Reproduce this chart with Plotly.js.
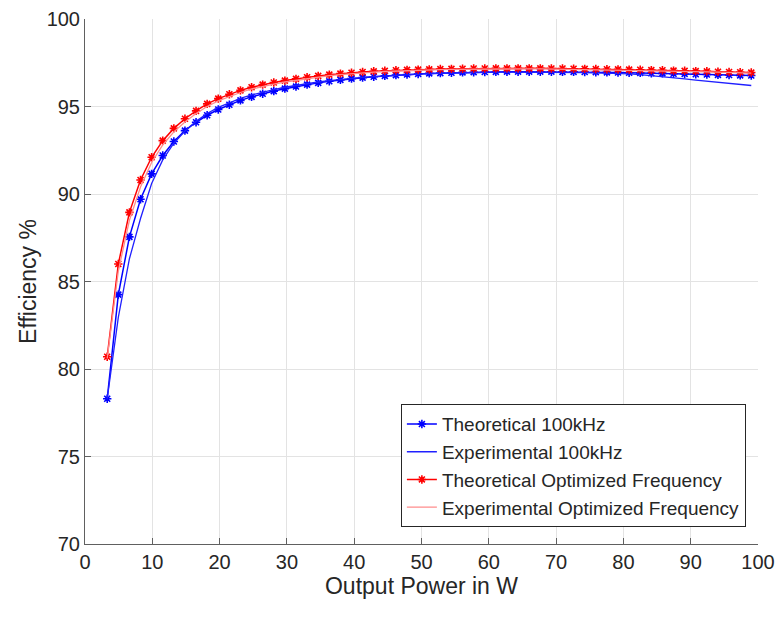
<!DOCTYPE html>
<html>
<head>
<meta charset="utf-8">
<script src="https://cdn.plot.ly/plotly-3.0.1.min.js"></script>
<style>html,body{margin:0;padding:0;background:#fff;}#chart{width:780px;height:620px;}</style>
</head>
<body>
<div id="chart"></div>
<script>
const outputPower = [3.3, 4.95, 6.6, 8.25, 9.9, 11.55, 13.2, 14.85, 16.5, 18.15, 19.8, 21.45, 23.1, 24.75, 26.4, 28.05, 29.7, 31.35, 33, 34.65, 36.3, 37.95, 39.6, 41.25, 42.9, 44.55, 46.2, 47.85, 49.5, 51.15, 52.8, 54.45, 56.1, 57.75, 59.4, 61.05, 62.7, 64.35, 66, 67.65, 69.3, 70.95, 72.6, 74.25, 75.9, 77.55, 79.2, 80.85, 82.5, 84.15, 85.8, 87.45, 89.1, 90.75, 92.4, 94.05, 95.7, 97.35, 99];

const theo100k = [78.3, 84.25, 87.55, 89.7, 91.15, 92.2, 93.0, 93.62, 94.1, 94.5, 94.83, 95.1, 95.35, 95.55, 95.73, 95.88, 96.02, 96.14, 96.25, 96.35, 96.44, 96.52, 96.59, 96.65, 96.7, 96.75, 96.79, 96.83, 96.86, 96.89, 96.91, 96.93, 96.95, 96.96, 96.97, 96.98, 96.99, 96.99, 96.99, 96.99, 96.99, 96.98, 96.98, 96.97, 96.96, 96.95, 96.94, 96.93, 96.92, 96.9, 96.89, 96.87, 96.86, 96.84, 96.83, 96.81, 96.8, 96.78, 96.77];

const exp100k = [78.3, 82.95, 86.3, 88.6, 90.6, 91.95, 92.9, 93.6, 94.15, 94.6, 94.95, 95.22, 95.46, 95.66, 95.83, 95.97, 96.1, 96.21, 96.31, 96.4, 96.48, 96.55, 96.61, 96.66, 96.71, 96.75, 96.79, 96.82, 96.85, 96.88, 96.9, 96.92, 96.94, 96.95, 96.96, 96.97, 96.97, 96.97, 96.97, 96.97, 96.96, 96.95, 96.94, 96.93, 96.92, 96.91, 96.89, 96.86, 96.82, 96.77, 96.72, 96.65, 96.58, 96.51, 96.45, 96.38, 96.32, 96.26, 96.2];

const theoOpt = [80.7, 86.0, 88.95, 90.8, 92.1, 93.05, 93.75, 94.3, 94.75, 95.15, 95.45, 95.7, 95.92, 96.1, 96.25, 96.37, 96.48, 96.58, 96.67, 96.75, 96.82, 96.88, 96.93, 96.97, 97.01, 97.04, 97.07, 97.09, 97.11, 97.12, 97.14, 97.15, 97.16, 97.17, 97.17, 97.18, 97.18, 97.18, 97.18, 97.18, 97.17, 97.17, 97.16, 97.15, 97.14, 97.13, 97.12, 97.11, 97.1, 97.08, 97.07, 97.05, 97.04, 97.02, 97.01, 96.99, 96.97, 96.96, 96.94];

const expOpt = [80.6, 85.6, 88.5, 90.4, 91.8, 92.8, 93.55, 94.12, 94.6, 95.0, 95.32, 95.58, 95.8, 96.0, 96.15, 96.28, 96.4, 96.5, 96.6, 96.68, 96.76, 96.82, 96.88, 96.93, 96.97, 97.0, 97.03, 97.06, 97.08, 97.1, 97.11, 97.12, 97.13, 97.14, 97.14, 97.15, 97.15, 97.15, 97.15, 97.15, 97.14, 97.14, 97.13, 97.12, 97.11, 97.1, 97.09, 97.08, 97.07, 97.05, 97.04, 97.02, 97.01, 96.99, 96.98, 96.96, 96.94, 96.93, 96.91];

const seriesNames = ['Theoretical 100kHz', 'Experimental 100kHz', 'Theoretical Optimized Frequency', 'Experimental Optimized Frequency'];
const xTicks = [0, 10, 20, 30, 40, 50, 60, 70, 80, 90, 100];
const yTicks = [70, 75, 80, 85, 90, 95, 100];

const FONT = '"Liberation Sans", Arial, Helvetica, sans-serif';

const traces = [
  {x: outputPower, y: theo100k, name: seriesNames[0], legendgroup: 'g1', mode: 'lines+markers',
   line: {color: '#0000ff', width: 1.5},
   marker: {symbol: 'asterisk-open', size: 7, color: '#0000ff', line: {color: '#0000ff', width: 1.6}}},
  {x: outputPower, y: exp100k, name: seriesNames[1], legendgroup: 'g2', mode: 'lines',
   line: {color: '#2020ff', width: 1.3}},
  {x: outputPower, y: theoOpt, name: seriesNames[2], legendgroup: 'g3', mode: 'lines+markers',
   line: {color: '#ff0000', width: 1.5},
   marker: {symbol: 'asterisk-open', size: 7, color: '#ff0000', line: {color: '#ff0000', width: 1.6}}},
  {x: outputPower, y: expOpt, name: seriesNames[3], legendgroup: 'g4', mode: 'lines',
   line: {color: '#ff8c8c', width: 1.3}}
];

const layout = {
  width: 780, height: 620,
  margin: {l: 85, r: 22, t: 19, b: 76},
  paper_bgcolor: '#ffffff', plot_bgcolor: '#ffffff',
  font: {family: FONT, color: '#262626', size: 20},
  showlegend: true,
  legend: {
    x: 0.982, y: 0.032, xanchor: 'right', yanchor: 'bottom',
    bgcolor: '#ffffff', bordercolor: '#262626', borderwidth: 1,
    font: {family: FONT, size: 19, color: '#262626'},
    tracegroupgap: 8, itemwidth: 30, traceorder: 'normal'
  },
  xaxis: {
    range: [0, 100], tickvals: xTicks, ticktext: xTicks.map(String),
    showgrid: true, gridcolor: '#e3e3e3', gridwidth: 1,
    showline: true, linecolor: '#606060', linewidth: 1,
    ticks: 'inside', ticklen: 6, tickcolor: '#606060',
    zeroline: false, mirror: false,
    tickfont: {family: FONT, size: 20, color: '#262626'},
    title: {text: 'Output Power in W', font: {family: FONT, size: 23, color: '#262626'}, standoff: 0}
  },
  yaxis: {
    range: [70, 100], tickvals: yTicks, ticktext: yTicks.map(String),
    showgrid: true, gridcolor: '#e3e3e3', gridwidth: 1,
    showline: true, linecolor: '#606060', linewidth: 1,
    ticks: 'inside', ticklen: 6, tickcolor: '#606060',
    zeroline: false, mirror: false,
    tickfont: {family: FONT, size: 20, color: '#262626'},
    title: {text: 'Efficiency %', font: {family: FONT, size: 23, color: '#262626'}, standoff: 3}
  }
};

Plotly.newPlot('chart', traces, layout, {displayModeBar: false, staticPlot: true});
</script>
</body>
</html>
